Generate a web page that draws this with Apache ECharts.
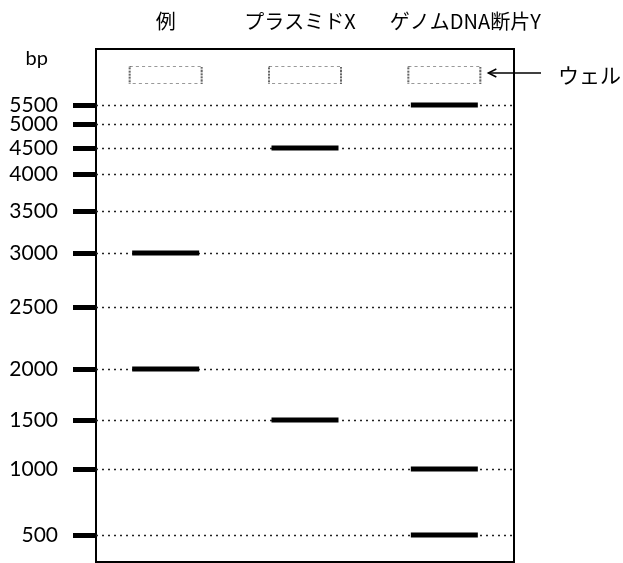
<!DOCTYPE html>
<html>
<head>
<meta charset="utf-8">
<script src="https://cdn.jsdelivr.net/npm/echarts@6/dist/echarts.min.js"></script>
<style>
html,body{margin:0;padding:0;background:#fff;}
#chart{width:623px;height:563px;}
</style>
</head>
<body>
<div id="chart"></div>
<script>
// Lanes (columns of the gel)
const lanes = ['例', 'プラスミドX', 'ゲノムDNA断片Y'];
// Size marker ladder: fragment size (bp) and migration distance from the well
const ladderBp   = [5500, 5000, 4500, 4000, 3500, 3000, 2500, 2000, 1500, 1000, 500];
const ladderDist = [30, 49, 73, 99, 136, 178, 232, 294, 345, 394, 460];
// Bands in each lane (bp)
const bandsExample  = [3000, 2000];
const bandsPlasmidX = [4500, 1500];
const bandsGenomicY = [5500, 1000, 500];
// Well position (migration distance 0)
const wellDist = 0;
const wellLabel = 'ウェル';
const axisUnit = 'bp';

const FONT = 'Lato, "Noto Sans CJK JP", sans-serif';
const JPFONT = '"Noto Sans CJK JP", sans-serif';

function distOf(bp) { return ladderDist[ladderBp.indexOf(bp)]; }
const laneBands = [bandsExample, bandsPlasmidX, bandsGenomicY];
const bandData = [];
laneBands.forEach((arr, i) => arr.forEach(bp => bandData.push([lanes[i], distOf(bp)])));
const wellData = lanes.map(l => [l, wellDist]);
// split ladder marks over two identical axes so that closely spaced labels are not auto-hidden
const ladderA = ladderDist.filter((d, i) => i % 2 === 0);
const ladderB = ladderDist.filter((d, i) => i % 2 === 1);

function ladderAxis(values, withLine, withName) {
  return {
    type: 'value', inverse: true, min: -26, max: 487, position: 'left', offset: 0, gridIndex: 0,
    name: withName ? axisUnit : '', nameLocation: 'start', nameGap: -10,
    nameTextStyle: {fontSize: 20, color: '#000', fontFamily: FONT, align: 'right', verticalAlign: 'middle', padding: [0, 48, 0, 0]},
    axisLine: {show: withLine, lineStyle: {color: '#000', width: 2}},
    splitLine: {show: false},
    axisTick: {show: true, inside: false, length: 23, customValues: values, lineStyle: {color: '#000', width: 5}},
    axisLabel: {
      show: true, margin: 38, fontSize: 21, color: '#000', fontFamily: FONT,
      showMinLabel: true, showMaxLabel: true, hideOverlap: false,
      customValues: values,
      formatter: v => String(ladderBp[ladderDist.indexOf(v)])
    }
  };
}

const chart = echarts.init(document.getElementById('chart'), null, {renderer: 'canvas'});
chart.setOption({
  animation: false,
  backgroundColor: '#fff',
  grid: {left: 96, right: 109, top: 49, bottom: 1, show: true, borderColor: '#000', borderWidth: 2, backgroundColor: 'transparent'},
  xAxis: {
    type: 'category', data: lanes, position: 'top',
    axisLine: {show: false}, axisTick: {show: false}, splitLine: {show: false},
    axisLabel: {
      interval: 0, hideOverlap: false,
      margin: 18, fontSize: 20, color: '#000', fontFamily: JPFONT,
      formatter: (v, i) => i === 2 ? '{r|' + v + '}' : (i === 1 ? '{l|' + v + '}' : v),
      rich: {
        r: {fontSize: 20, color: '#000', fontFamily: JPFONT, padding: [0, 0, 0, 42]},
        l: {fontSize: 20, color: '#000', fontFamily: JPFONT, padding: [0, 10, 0, 0]}
      }
    }
  },
  yAxis: [ladderAxis(ladderA, true, true), ladderAxis(ladderB, false, false)],
  series: [
    {
      type: 'line', name: 'ladder', data: [], silent: true, z: 1, yAxisIndex: 0,
      markLine: {
        silent: true, symbol: ['none', 'none'], label: {show: false},
        lineStyle: {type: [2, 4], color: '#222', width: 1.4},
        data: ladderDist.map(d => ({yAxis: d}))
      }
    },
    {
      type: 'scatter', name: 'wells', data: wellData, symbol: 'rect', symbolSize: [72, 17], yAxisIndex: 0,
      itemStyle: {color: 'rgba(0,0,0,0)', borderColor: '#000', borderWidth: 1, borderType: [1.5, 1.5]},
      silent: true, z: 3
    },
    {
      type: 'scatter', name: 'bands', data: bandData, symbol: 'rect', symbolSize: [67, 5], yAxisIndex: 0,
      itemStyle: {color: '#000', opacity: 1}, silent: true, z: 5
    }
  ]
});

// Arrow pointing to the well of the last lane
const wp = chart.convertToPixel({gridIndex: 0}, [lanes[2], wellDist]);
const ay = wp[1] - 2;
const tipX = wp[0] + 36 + 8;
chart.setOption({
  graphic: [
    {type: 'line', shape: {x1: tipX, y1: ay, x2: 541, y2: ay}, style: {stroke: '#000', lineWidth: 1.5}},
    {type: 'polyline', shape: {points: [[tipX + 8, ay - 4], [tipX, ay], [tipX + 8, ay + 4]]}, style: {stroke: '#000', lineWidth: 1.5, fill: null}},
    {type: 'text', x: 558, y: ay + 2, style: {text: wellLabel, font: '21px ' + JPFONT, fill: '#000', textVerticalAlign: 'middle', textAlign: 'left'}}
  ]
});
</script>
</body>
</html>
